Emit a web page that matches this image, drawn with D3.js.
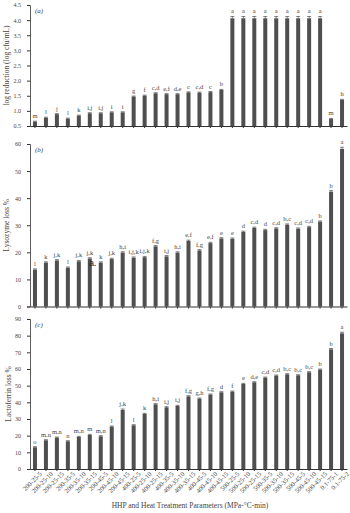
<!DOCTYPE html>
<html>
<head>
<meta charset="utf-8">
<script src="https://cdn.jsdelivr.net/npm/d3@7"></script>
<style>
  body { margin: 0; background: #fff; }
  text { font-family: "Liberation Serif", "DejaVu Serif", serif; fill: #444; }
</style>
</head>
<body>
<svg width="350" height="513"></svg>
<script>
const width = 350;
const height = 513;

// Treatment labels (MPa-°C-min)
const treatments = [
  "200-25-5", "200-25-10", "200-25-15", "200-35-5", "200-35-10", "200-35-15",
  "200-45-5", "200-45-10", "200-45-15", "400-25-5", "400-25-10", "400-25-15",
  "400-35-5", "400-35-10", "400-35-15", "400-45-5", "400-45-10", "400-45-15",
  "500-25-5", "500-25-10", "500-25-15", "500-35-5", "500-35-10", "500-35-15",
  "500-45-5", "500-45-10", "500-45-15", "0.1-75-1", "0.1-75-2"
];

// (a) log reduction
const logRed = [0.64, 0.77, 0.89, 0.74, 0.84, 0.92, 0.92, 0.95, 0.95, 1.47, 1.50, 1.58, 1.55,
  1.55, 1.61, 1.60, 1.62, 1.69, 4.06, 4.06, 4.06, 4.06, 4.06, 4.06, 4.06, 4.06, 4.06, 0.73, 1.36];
const logErr = [0.02, 0.02, 0.02, 0.02, 0.02, 0.02, 0.02, 0.02, 0.02, 0.02, 0.02, 0.02, 0.02,
  0.02, 0.02, 0.02, 0.02, 0.02, 0.06, 0.06, 0.06, 0.06, 0.06, 0.06, 0.06, 0.06, 0.06, 0.02, 0.02];
const logLetters = ["m", "l", "j", "l", "k", "i,j", "i,j", "i", "i", "g", "f", "c,d", "e,f",
  "d,e", "c", "c,d", "c", "b", "a", "a", "a", "a", "a", "a", "a", "a", "a", "m", "h"];

// (b) lysozyme loss %
const lysLoss = [13.6, 16.2, 17.0, 14.3, 16.7, 17.7, 16.2, 17.5, 19.9, 18.0, 18.2, 22.2, 18.5,
  19.9, 24.2, 20.7, 23.4, 25.1, 25.0, 27.5, 29.0, 28.2, 28.8, 30.2, 28.7, 29.3, 31.3, 42.4, 58.2];
const lysErr = [0.3, 0.3, 0.3, 0.3, 0.3, 0.3, 0.3, 0.3, 0.3, 0.3, 0.3, 0.3, 0.3,
  0.3, 0.3, 0.3, 0.3, 0.3, 0.3, 0.3, 0.3, 0.3, 0.3, 0.3, 0.3, 0.3, 0.3, 0.4, 0.6];
const lysLetters = ["l", "k", "j,k", "l", "j,k", "j,k", "k", "j,k", "h,i", "i,j,k", "i,j,k", "f,g", "i,j",
  "h,i", "e,f", "f,g", "e,f", "e", "e", "d", "c,d", "d", "c,d", "b,c", "c,d", "c,d", "b", "b", "a"];

// (c) lactoferrin loss %
const lacLoss = [13.0, 17.2, 18.8, 16.6, 19.2, 20.4, 19.6, 25.4, 35.4, 26.2, 33.0, 38.8, 37.0,
  37.8, 43.6, 42.2, 44.6, 46.0, 46.4, 51.0, 52.0, 54.8, 56.0, 56.8, 56.2, 58.0, 59.6, 71.8, 81.4];
const lacErr = [0.4, 0.4, 0.4, 0.4, 0.4, 0.4, 0.4, 0.4, 0.6, 0.4, 0.4, 0.4, 0.4,
  0.4, 0.4, 0.4, 0.4, 0.4, 0.4, 0.4, 0.4, 0.4, 0.4, 0.4, 0.4, 0.4, 0.4, 0.5, 0.7];
const lacLetters = ["o", "m,n", "m,n", "n", "m,n", "m", "m,n", "l", "j,k", "l", "k", "h,i", "i,j",
  "i,j", "f,g", "g,h", "f,g", "d", "f", "e", "d,e", "c,d", "c,d", "b,c", "b,c", "b,c", "b", "b", "a"];

const svg = d3.select("svg");

const x = d3.scaleBand()
  .domain(treatments)
  .range([30, 347])
  .paddingInner(0.635)
  .paddingOuter(0.27);

const panels = [
  { tag: "(a)", title: "log reduction (log cfu/mL)", values: logRed, err: logErr, letters: logLetters,
    domain: [0.5, 4.5], range: [126, 5], ticks: d3.range(0.5, 4.51, 0.5), fmt: d3.format(".1f"), titleX: 9 },
  { tag: "(b)", title: "Lysozyme loss %", values: lysLoss, err: lysErr, letters: lysLetters,
    domain: [0, 60], range: [306.5, 144], ticks: d3.range(0, 61, 10), fmt: d3.format("d"), titleX: 9 },
  { tag: "(c)", title: "Lactoferrin loss %", values: lacLoss, err: lacErr, letters: lacLetters,
    domain: [0, 90], range: [469, 319], ticks: d3.range(0, 91, 10), fmt: d3.format("d"), titleX: 11 }
];

panels.forEach((p, pi) => {
  const y = d3.scaleLinear().domain(p.domain).range(p.range);
  const base = p.range[0];
  const g = svg.append("g");

  // bars
  g.selectAll("rect")
    .data(p.values)
    .enter()
    .append("rect")
    .attr("x", (d, i) => x(treatments[i]))
    .attr("y", d => y(d))
    .attr("width", x.bandwidth())
    .attr("height", d => base - y(d))
    .attr("fill", "#4f4f4f");

  // error bars
  const cx = i => x(treatments[i]) + x.bandwidth() / 2;
  g.selectAll("path.err")
    .data(p.values)
    .enter()
    .append("path")
    .attr("class", "err")
    .attr("d", (d, i) => {
      const t = y(d + p.err[i]);
      return `M${cx(i)},${y(d)}V${t}M${cx(i) - 2},${t}H${cx(i) + 2}`;
    })
    .attr("stroke", "#333")
    .attr("stroke-width", 0.6)
    .attr("fill", "none");

  // significance letters
  g.selectAll("text.letter")
    .data(p.letters)
    .enter()
    .append("text")
    .attr("class", "letter")
    .attr("x", (d, i) => cx(i))
    .attr("y", (d, i) => y(p.values[i] + p.err[i]) - 3)
    .attr("text-anchor", "middle")
    .attr("font-size", 6.5)
    .text(d => d);

  // y axis
  const yAxis = g.append("g")
    .attr("transform", "translate(30,0)")
    .call(d3.axisLeft(y).tickValues(p.ticks).tickFormat(p.fmt).tickSize(3).tickPadding(6));
  yAxis.select(".domain").attr("stroke", "#333").attr("stroke-width", 0.8);
  yAxis.selectAll(".tick line").attr("stroke", "#333");
  yAxis.selectAll("text").attr("font-size", 6).attr("font-family", "Liberation Serif").attr("fill", "#444");

  // x axis
  const xAxis = g.append("g")
    .attr("transform", `translate(0,${base})`)
    .call(d3.axisBottom(x).tickSize(2).tickSizeOuter(0));
  xAxis.select(".domain").attr("stroke", "#333").attr("stroke-width", 1.2);
  xAxis.selectAll(".tick line").attr("stroke", "#333");
  if (pi === 2) {
    xAxis.selectAll("text")
      .attr("font-size", 6.5)
      .attr("font-family", "Liberation Serif")
      .attr("fill", "#444")
      .attr("text-anchor", "end")
      .attr("transform", "translate(3,1) rotate(-45)")
      .attr("dy", "0.5em")
      .attr("y", 3)
      .attr("x", 0);
  } else {
    xAxis.selectAll("text").remove();
  }

  // panel tag
  g.append("text")
    .attr("x", 35)
    .attr("y", p.range[1] + 8)
    .attr("font-size", 7)
    .attr("font-style", "italic")
    .text(p.tag);

  // y title
  g.append("text")
    .attr("transform", `translate(${p.titleX},${(p.range[0] + p.range[1]) / 2}) rotate(-90)`)
    .attr("text-anchor", "middle")
    .attr("font-size", 7.5)
    .text(p.title);
});

// stray mark in panel (b)
svg.append("text")
  .attr("x", 89)
  .attr("y", 266)
  .attr("font-size", 9)
  .style("font-family", "Liberation Sans, sans-serif")
  .style("fill", "#222")
  .text("a.");

// x title
svg.append("text")
  .attr("x", 190)
  .attr("y", 508)
  .attr("text-anchor", "middle")
  .attr("font-size", 7.5)
  .text("HHP and Heat Treatment Parameters (MPa-°C-min)");
</script>
</body>
</html>
